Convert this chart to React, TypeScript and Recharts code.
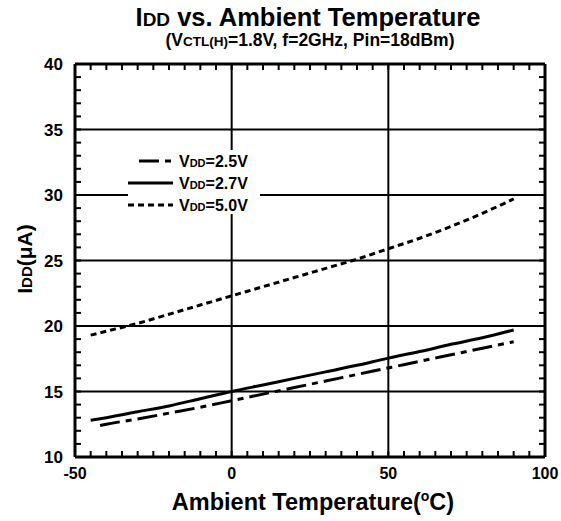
import React from "react";
import {
  LineChart,
  Line,
  XAxis,
  YAxis,
  ReferenceLine,
  Legend,
} from "recharts";

// temperatures (°C)
const tempsLow = [-42, -40, -30, -20, -10, 0, 10, 20, 30, 40, 50, 60, 70, 80, 90];
const temps = [-45, -40, -30, -20, -10, 0, 10, 20, 30, 40, 50, 60, 70, 80, 90];

// IDD (uA)
const idd25 = [12.4, 12.5, 12.9, 13.35, 13.8, 14.3, 14.8, 15.3, 15.8, 16.3, 16.8, 17.3, 17.8, 18.3, 18.8];
const idd27 = [12.8, 13.0, 13.45, 13.9, 14.45, 15.0, 15.5, 16.0, 16.5, 17.0, 17.55, 18.05, 18.6, 19.1, 19.7];
const idd50 = [19.3, 19.6, 20.2, 20.9, 21.6, 22.3, 23.0, 23.7, 24.4, 25.1, 25.9, 26.7, 27.6, 28.6, 29.7];

const xMajor = [-50, 0, 50, 100];
const yMajor = [10, 15, 20, 25, 30, 35, 40];
const xMinor = Array.from({ length: 31 }, (_, i) => -50 + i * 5);
const yMinor = Array.from({ length: 31 }, (_, i) => 10 + i);

const FONT = "'Liberation Sans', Arial, Helvetica, sans-serif";

const series = [
  { key: "v25", label: "2.5V", temps: tempsLow, values: idd25, dash: "20 6 6 6", x0: 11 },
  { key: "v27", label: "2.7V", temps: temps, values: idd27, dash: undefined, x0: 0 },
  { key: "v50", label: "5.0V", temps: temps, values: idd50, dash: "6 4", x0: 0 },
];

const toRows = (t: number[], v: number[]) => t.map((temp, i) => ({ t: temp, idd: v[i] }));

const frame = { stroke: "#000", strokeWidth: 3 };
const TICK_LEN = 6;

// inward tick mark at the axis position, plus a label for the major values
const inward = (dx: number, dy: number, majors?: number[]) => (props: any) => {
  const { x, y, payload } = props;
  const v = payload?.value;
  const showLabel = majors && majors.includes(v);
  return (
    <g>
      <line x1={x} y1={y} x2={x + dx * TICK_LEN} y2={y + dy * TICK_LEN} stroke="#000" strokeWidth={2} />
      {showLabel && dy !== 0 && (
        <text x={x} y={y + 22} textAnchor="middle" fontFamily={FONT} fontWeight="bold" fontSize={16} fill="#000">
          {v}
        </text>
      )}
      {showLabel && dx !== 0 && (
        <text x={x - 12} y={y + 6} textAnchor="end" fontFamily={FONT} fontWeight="bold" fontSize={17} fill="#000">
          {v}
        </text>
      )}
    </g>
  );
};

function LegendBox() {
  return (
    <svg width={132} height={64} style={{ display: "block", background: "#fff" }}>
      {series.map((s, i) => {
        const y = 11 + i * 22;
        return (
          <g key={s.key}>
            <line x1={s.x0} x2={45} y1={y} y2={y} stroke="#000" strokeWidth={3} strokeDasharray={s.dash} />
            <text x={51} y={y + 6} fontFamily={FONT} fontWeight="bold" fontSize={16} fill="#000">
              V<tspan fontSize={11}>DD</tspan>={s.label}
            </text>
          </g>
        );
      })}
    </svg>
  );
}

export default function App() {
  return (
    <div style={{ position: "absolute", left: 0, top: 0, width: 561, height: 521, background: "#fff", fontFamily: FONT }}>
      <LineChart width={561} height={521} margin={{ top: 63, right: 15, bottom: 24, left: 0 }}>
        <XAxis
          xAxisId="x"
          type="number"
          dataKey="t"
          domain={[-50, 100]}
          allowDataOverflow
          ticks={xMinor}
          interval={0}
          tick={inward(0, -1, xMajor)}
          tickLine={false}
          tickSize={0}
          tickMargin={0}
          height={40}
          axisLine={frame}
        />
        <XAxis
          xAxisId="top"
          orientation="top"
          type="number"
          dataKey="t"
          domain={[-50, 100]}
          allowDataOverflow
          ticks={xMinor}
          interval={0}
          tick={inward(0, 1)}
          tickLine={false}
          tickSize={0}
          tickMargin={0}
          height={1}
          axisLine={frame}
        />
        <YAxis
          yAxisId="y"
          type="number"
          domain={[10, 40]}
          allowDataOverflow
          ticks={yMinor}
          interval={0}
          tick={inward(1, 0, yMajor)}
          tickLine={false}
          tickSize={0}
          tickMargin={0}
          width={75}
          axisLine={frame}
        />
        <YAxis
          yAxisId="right"
          orientation="right"
          type="number"
          domain={[10, 40]}
          allowDataOverflow
          ticks={yMinor}
          interval={0}
          tick={inward(-1, 0)}
          tickLine={false}
          tickSize={0}
          tickMargin={0}
          width={1}
          axisLine={frame}
        />
        {xMajor.slice(1, -1).map((v) => (
          <ReferenceLine key={`gx${v}`} xAxisId="x" yAxisId="y" x={v} stroke="#000" strokeWidth={2} />
        ))}
        {yMajor.slice(1, -1).map((v) => (
          <ReferenceLine key={`gy${v}`} xAxisId="x" yAxisId="y" y={v} stroke="#000" strokeWidth={2} />
        ))}
        {/* top/right frame axes only tick once a series is bound to them */}
        <Line
          xAxisId="top"
          yAxisId="right"
          data={toRows(temps, idd27)}
          dataKey="idd"
          stroke="none"
          dot={false}
          activeDot={false}
          legendType="none"
          isAnimationActive={false}
        />
        {series.map((s) => (
          <Line
            key={s.key}
            xAxisId="x"
            yAxisId="y"
            data={toRows(s.temps, s.values)}
            dataKey="idd"
            name={s.label}
            type="monotone"
            stroke="#000"
            strokeWidth={3}
            strokeDasharray={s.dash}
            dot={false}
            activeDot={false}
            isAnimationActive={false}
          />
        ))}
        <Legend
          layout="vertical"
          align="center"
          verticalAlign="middle"
          content={() => <LegendBox />}
          wrapperStyle={{ position: "absolute", left: 128, top: 150, width: 132, height: 64 }}
        />
      </LineChart>
      <svg width={561} height={521} style={{ position: "absolute", left: 0, top: 0, pointerEvents: "none" }}>
        <text x={308} y={26} textAnchor="middle" fontFamily={FONT} fontWeight="bold" fontSize={25.5} fill="#000">
          I<tspan fontSize={19}>DD</tspan> vs. Ambient Temperature
        </text>
        <text x={310} y={46} textAnchor="middle" fontFamily={FONT} fontWeight="bold" fontSize={17.5} fill="#000">
          (V<tspan fontSize={13.5}>CTL(H)</tspan>=1.8V, f=2GHz, Pin=18dBm)
        </text>
        <text x={313} y={510} textAnchor="middle" fontFamily={FONT} fontWeight="bold" fontSize={23.5} fill="#000">
          Ambient Temperature(<tspan fontSize={14} dy={-9}>o</tspan>
          <tspan dy={9}>C)</tspan>
        </text>
        <text
          transform="translate(32 259) rotate(-90)"
          textAnchor="middle"
          fontFamily={FONT}
          fontWeight="bold"
          fontSize={21}
          fill="#000"
        >
          I<tspan fontSize={15}>DD</tspan>(μA)
        </text>
      </svg>
    </div>
  );
}
